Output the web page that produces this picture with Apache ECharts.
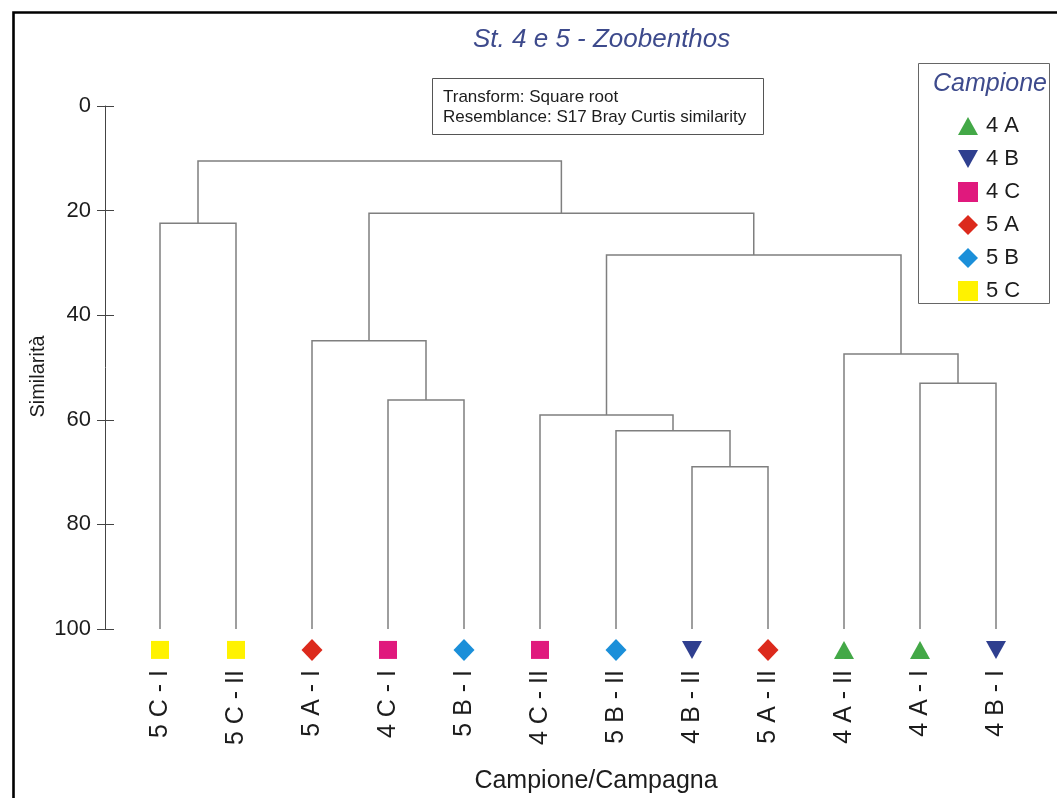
<!DOCTYPE html>
<html>
<head>
<meta charset="utf-8">
<title>St. 4 e 5 - Zoobenthos</title>
<script src="https://cdn.jsdelivr.net/npm/echarts@6/dist/echarts.min.js"></script>
<style>
  html, body { margin: 0; padding: 0; background: #ffffff; }
  #chart { width: 1057px; height: 798px; }
</style>
</head>
<body>
<div id="chart"></div>
<script>
// Samples in dendrogram leaf order (Campione/Campagna)
const leaves = ['5 C - I', '5 C - II', '5 A - I', '4 C - I', '5 B - I', '4 C - II',
                '5 B - II', '4 B - II', '5 A - II', '4 A - II', '4 A - I', '4 B - I'];

// Sampling groups shown in the legend
const groups = ['4 A', '4 B', '4 C', '5 A', '5 B', '5 C'];

// Agglomeration steps: [node A, node B, similarity %]
// Nodes 0..11 are the leaves; each step creates node 12, 13, ...
const merges = [
  [0, 1, 22.4],    // 12
  [3, 4, 56.2],    // 13
  [2, 13, 44.9],   // 14
  [7, 8, 69.0],    // 15
  [6, 15, 62.1],   // 16
  [5, 16, 59.1],   // 17
  [10, 11, 53.0],  // 18
  [9, 18, 47.4],   // 19
  [17, 19, 28.5],  // 20
  [14, 20, 20.5],  // 21
  [12, 21, 10.5]   // 22
];

// Similarity axis ticks
const yTicks = [0, 20, 40, 60, 80, 100];

// Leaves sit at full similarity
const LEAF_LEVEL = 100;

// ---- styling ----
const FONT = "'Liberation Sans', Arial, Helvetica, sans-serif";
const TEXT = '#1c1c1c';
const BLUE_TITLE = '#3d4a8c';
const TREE_COLOR = '#7f7f7f';
const MARKER_LEVEL = 104;   // markers drawn just below the 100 line

const groupStyle = {
  '4 A': { color: '#43a847', symbol: 'path://M10,0L20,18L0,18Z', size: [20, 18] },
  '4 B': { color: '#2f3f8f', symbol: 'path://M0,0L20,0L10,18Z', size: [20, 18] },
  '4 C': { color: '#e0197d', symbol: 'rect', size: [18, 18] },
  '5 A': { color: '#dc2a1c', symbol: 'diamond', size: [21, 22] },
  '5 B': { color: '#1b8fd9', symbol: 'diamond', size: [21, 22] },
  '5 C': { color: '#fff200', symbol: 'rect', size: [18, 18] }
};

// ---- build dendrogram segments from the merge table ----
const nodeX = leaves.map((_, i) => i);
const nodeH = leaves.map(() => LEAF_LEVEL);
const links = [];
merges.forEach(([a, b, h]) => {
  links.push([nodeX[a], nodeH[a], nodeX[b], nodeH[b], h]);
  nodeX.push((nodeX[a] + nodeX[b]) / 2);
  nodeH.push(h);
});

const groupOf = name => name.split(' - ')[0];

const markerSeries = groups.map(g => ({
  name: g,
  type: 'scatter',
  xAxisIndex: 1,
  yAxisIndex: 0,
  clip: false,
  symbol: groupStyle[g].symbol,
  symbolSize: groupStyle[g].size,
  itemStyle: { color: groupStyle[g].color, opacity: 1 },
  emphasis: { disabled: true },
  z: 5,
  data: leaves.map((n, i) => groupOf(n) === g ? [i, MARKER_LEVEL] : null).filter(d => d)
}));

const chart = echarts.init(document.getElementById('chart'), null, { renderer: 'canvas' });

const yAxisBase = {
  type: 'value',
  inverse: true,
  min: yTicks[0],
  max: yTicks[yTicks.length - 1],
  interval: yTicks[1] - yTicks[0],
  position: 'left',
  offset: 17,
  splitLine: { show: false }
};

chart.setOption({
  backgroundColor: '#ffffff',
  animation: false,
  textStyle: { fontFamily: FONT },
  title: {
    text: 'St. 4 e 5 - Zoobenthos',
    left: 473,
    top: 27,
    padding: 0,
    textStyle: { fontFamily: FONT, fontSize: 26, fontStyle: 'italic', fontWeight: 'normal', color: BLUE_TITLE }
  },
  legend: {
    data: groups,
    orient: 'vertical',
    left: 958,
    top: 115,
    padding: 0,
    itemWidth: 20,
    itemHeight: 20,
    itemGap: 11,
    selectedMode: false,
    textStyle: { fontFamily: FONT, fontSize: 22, color: TEXT, lineHeight: 20, padding: [0, 0, 0, 3] }
  },
  grid: { left: 122, right: 23, top: 106, bottom: 169, containLabel: false, outerBoundsMode: 'none' },
  xAxis: [
    {
      type: 'category',
      data: leaves,
      position: 'bottom',
      axisLine: { show: false },
      axisTick: { show: false },
      axisLabel: { interval: 0, rotate: 90, margin: 41, fontSize: 25, color: TEXT, fontFamily: FONT },
      name: 'Campione/Campagna',
      nameLocation: 'middle',
      nameGap: 140,
      nameMoveOverlap: false,
      nameTextStyle: { fontSize: 25, color: TEXT, fontFamily: FONT, padding: [0, 0, 0, 36] }
    },
    {
      type: 'value',
      min: -0.5,
      max: leaves.length - 0.5,
      show: false
    }
  ],
  yAxis: [
    Object.assign({}, yAxisBase, {
      axisLine: { show: true, onZero: false, lineStyle: { color: '#444444', width: 1 } },
      axisTick: { show: true, inside: false, length: 8, lineStyle: { color: '#444444', width: 1 } },
      axisLabel: { margin: 14, fontSize: 22, color: TEXT, fontFamily: FONT },
      name: 'Similarità',
      nameLocation: 'middle',
      nameRotate: 90,
      nameGap: 57,
      nameMoveOverlap: false,
      nameTextStyle: { fontSize: 20, color: TEXT, fontFamily: FONT, padding: [0, 18, 0, 0] }
    }),
    Object.assign({}, yAxisBase, {
      axisLine: { show: false, onZero: false },
      axisTick: { show: true, inside: true, length: 9, lineStyle: { color: '#444444', width: 1 } },
      axisLabel: { show: false }
    })
  ],
  series: [
    {
      type: 'custom',
      name: 'dendrogram',
      xAxisIndex: 1,
      yAxisIndex: 0,
      encode: { x: [0, 2], y: [1, 3, 4] },
      silent: true,
      z: 3,
      data: links,
      renderItem: (params, api) => {
        const xl = api.value(0), yl = api.value(1);
        const xr = api.value(2), yr = api.value(3);
        const h = api.value(4);
        return {
          type: 'polyline',
          shape: { points: [api.coord([xl, yl]), api.coord([xl, h]), api.coord([xr, h]), api.coord([xr, yr])] },
          style: { stroke: TREE_COLOR, lineWidth: 1.5, fill: null }
        };
      }
    }
  ].concat(markerSeries),
  graphic: [
    // outer frame
    {
      type: 'rect', silent: true, z: 100,
      shape: { x: 13.5, y: 12.5, width: 1200, height: 1000 },
      style: { fill: null, stroke: '#000000', lineWidth: 2.6 }
    },
    // method note box
    {
      type: 'rect', silent: true, z: 10,
      shape: { x: 432.5, y: 78.5, width: 331, height: 56 },
      style: { fill: '#ffffff', stroke: '#555555', lineWidth: 1 }
    },
    {
      type: 'text', silent: true, z: 11, left: 443, top: 87,
      style: { text: 'Transform: Square root\nResemblance: S17 Bray Curtis similarity', font: '17px ' + FONT, fill: TEXT, lineHeight: 20 }
    },
    // legend frame and heading
    {
      type: 'rect', silent: true, z: 10,
      shape: { x: 918.5, y: 63.5, width: 131, height: 240 },
      style: { fill: null, stroke: '#666666', lineWidth: 1 }
    },
    {
      type: 'text', silent: true, z: 11, left: 933, top: 72,
      style: { text: 'Campione', font: 'italic 25px ' + FONT, fill: BLUE_TITLE }
    }
  ]
});
</script>
</body>
</html>
